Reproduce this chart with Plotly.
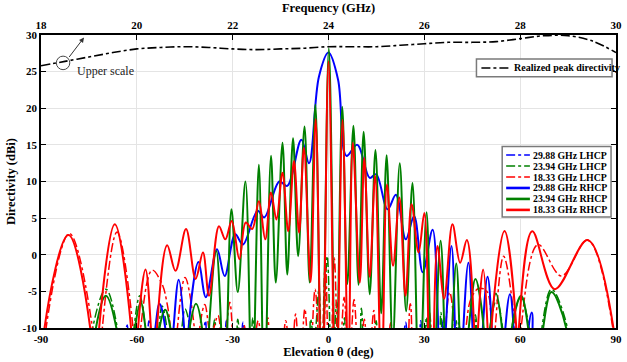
import plotly.graph_objects as go

# ---------------- data ----------------
# elevation angle (deg), directivity (dBi) key points of each pattern cut
blue_lhcp = [(-90,-30),(-66,-25),(-64.5,-16),(-63.0,-9.6),(-61.5,-16),(-58.0,-16),(-56.2,-9.0),(-54.5,-16),
             (-52,-25),(-45,-25),(-40,-16),(-38.5,-9.0),(-37,-16),(-33.5,-16),(-32,-9.0),(-30.5,-16),
             (-28.3,-16),(-26.8,-9.2),(-25.3,-16),(-20,-25),(20,-25),(22.7,-16),(24.2,-9.2),(25.7,-16),
             (27.4,-16),(28.9,-9.0),(30.4,-16),(34.3,-16),(35.8,-8.8),(37.3,-16),(39.5,-16),(40.8,-9.3),
             (42.1,-16),(46,-25),(90,-30)]

green_lhcp = [(-90,-30),(-76,-25),(-73.8,-10),(-69.7,-4.7),(-66.1,-10),(-63.5,-25),(-60.9,-10),(-59.1,-5.6),
              (-57.3,-10),(-55.2,-25),(-53.1,-10),(-52.1,-7.0),(-50.6,-10),(-48.2,-25),(-45.9,-10),(-44.9,-7.4),
              (-43.3,-10),(-40.0,-22),(-37.2,-16),(-35.6,-8.8),(-34.0,-16),(-30.0,-16),(-28.4,-8.8),(-26.8,-16),
              (-25.2,-16),(-23.7,-8.6),(-22.2,-16),(-15,-25),(-7.0,-20),(-5.6,-8.8),(-4.5,-12),(-3.0,-4.8),
              (-2.0,-16),(-0.4,-0.2),(1.1,-16),(2.6,-6.5),(3.8,-16),(5.0,-8.6),(6.4,-20),(9.0,-18),(10.3,-7.3),
              (11.8,-18),(13.6,-16),(14.9,-9.0),(16.2,-16),(22,-25),(29.3,-16),(30.7,-8.5),(32.1,-16),
              (33.8,-16),(35.2,-7.9),(36.6,-16),(38.8,-16),(40.0,-9.0),(41.2,-16),(44.8,-16),(46.0,-8.2),
              (47.2,-16),(49.0,-25),(50.5,-10),(52.6,-6.2),(54.5,-10),(56.0,-25),(57.4,-10),(60.2,-5.8),
              (62.8,-10),(65.0,-25),(66.8,-10),(69.8,-4.7),(74.8,-10),(76.5,-25),(90,-30)]

red_lhcp = [(-90,-30),(-88.4,-10),(-81.1,2.9),(-73.9,-10),(-72.4,-28),(-70.8,-10),(-66.2,3.1),(-61.2,-10),
            (-60.2,-26),(-58.8,-10),(-55.2,-2.1),(-52.1,-4.0),(-50.6,-6.5),(-49.5,-10),(-48.5,-22),(-47.3,-10),
            (-44.9,-3.1),(-42.0,-10),(-41.2,-22),(-40.3,-10),(-38.7,-6.8),(-36.8,-11),(-34.6,-8.3),(-33.0,-14),
            (-30.9,-6.5),(-29.0,-16),(-26.5,-9.6),(-24.5,-16),(-22.0,-9.0),(-20.3,-16),(-19.0,-8.6),(-17.3,-16),
            (-15.5,-16),(-13.4,-9.0),(-11.8,-16),(-10.3,-8.1),(-8.9,-16),(-7.4,-7.4),(-5.9,-16),(-4.2,-4.7),
            (-2.4,-16),(-1.0,-1.1),(0.4,-22),(1.8,-0.4),(3.3,-16),(4.9,-5.8),(6.4,-16),(8.0,-6.1),(9.6,-16),
            (11.2,-8.8),(12.6,-16),(14.2,-7.6),(15.8,-16),(17.5,-16),(19.5,-9.3),(21.2,-16),(23.6,-16),
            (25.6,-6.7),(27.5,-16),(29.5,-16),(31.5,-7.8),(33.5,-16),(35.5,-14),(37.9,-5.1),(40.0,-12),
            (41.3,-16),(43.0,-10),(44.6,-6.0),(47.0,-4.6),(49.6,-5.0),(51.0,-12),(51.6,-16),(52.2,-10),
            (54.8,-0.2),(58.4,-10),(59.3,-26),(60.3,-10),(65.6,1.4),(72.9,-2.9),(81.1,2.0),(89.0,-10),(90,-25)]

blue_rhcp = [(-90,-30),(-57,-25),(-54.2,-10),(-52.9,-6.7),(-51.1,-10),(-50,-22),(-48.5,-10),(-46.9,-3.4),
             (-45.2,-10),(-44.5,-22),(-43.8,-10),(-40.7,-1.0),(-38.4,-5.8),(-34.9,0.75),(-32.5,-2.9),(-29.2,2.8),
             (-26.8,1.4),(-22.2,6.0),(-20.1,5.1),(-15.4,10.0),(-12.9,9.4),(-8.5,15.7),(-6.1,12.5),(-3.0,24.3),
             (0.0,27.6),(3.0,23.9),(5.6,13.5),(9.0,15.0),(12.9,10.5),(14.9,11.0),(18.5,6.2),(21.1,8.2),
             (24.2,2.1),(26.8,5.3),(29.5,-2.4),(32.6,3.4),(35.3,-18),(38.5,1.2),(40.6,-20),(43.8,-1.1),
             (46.5,-20),(49.8,-3.0),(52.9,-20),(56.8,-5.4),(59.8,-20),(63.6,-7.9),(66.5,-22),(90,-30)]

green_rhcp = [(-90,-30),(-75,-25),(-72.8,-10),(-69.7,-5.6),(-66.4,-10),(-63.5,-25),(-60.6,-10),(-58.8,-6.5),
              (-57.3,-10),(-55.0,-25),(-52.9,-10),(-51.1,-7.5),(-49.5,-10),(-46.5,-25),(-43.5,-10),(-41.5,-6.7),
              (-39.6,-10),(-38.5,-25),(-37.4,-10),(-35.1,0.5),(-32.5,-18),(-30.4,6.2),(-28.4,-5.1),(-26.0,10.0),
              (-23.9,-20),(-21.8,12.3),(-20.1,-20),(-18.0,13.5),(-16.5,-3.8),(-14.4,15.3),(-12.9,-2.7),
              (-11.1,15.9),(-9.5,-0.2),(-7.5,17.5),(-5.9,-3.8),(-4.1,20.5),(-2.1,-20),(0.1,28.2),(2.3,-20),
              (4.3,20.2),(5.9,-4.0),(7.8,17.6),(9.4,-4.1),(11.0,16.8),(12.9,-5.4),(14.7,14.3),(16.5,-8.0),
              (18.2,13.6),(20.1,-12),(22.3,12.5),(24.3,-7.7),(26.3,9.8),(28.4,-20),(30.7,5.8),(32.6,-20),
              (35.1,1.9),(37.3,-20),(40.0,-1.2),(42.0,-20),(43.9,-10),(46.0,-3.3),(48.6,-10),(49.6,-25),
              (50.7,-10),(52.4,-5.3),(54.3,-10),(55.8,-25),(57.4,-10),(60.3,-5.6),(62.5,-10),(64.8,-25),
              (67.2,-10),(69.8,-5.1),(74.4,-10),(76.0,-25),(90,-30)]

red_rhcp = [(-90,-30),(-88.9,-10),(-81.4,2.7),(-74.6,-10),(-73.2,-28),(-71.8,-10),(-66.9,4.15),(-61.8,-10),
            (-60.7,-28),(-59.6,-10),(-57.3,-2.0),(-55.6,-10),(-54.6,-26),(-53.7,-10),(-50.5,1.3),(-47.9,-2.2),
            (-44.6,3.5),(-41.6,-3.3),(-39.3,0.3),(-37.4,-5.6),(-34.3,3.9),(-32.3,2.1),(-30.3,4.6),(-27.9,-0.6),
            (-25.9,4.4),(-23.9,3.5),(-21.8,7.3),(-19.8,2.1),(-18.0,8.5),(-16.3,4.8),(-14.4,11.2),(-12.6,3.2),
            (-10.8,12.8),(-9.2,3.0),(-7.7,14.6),(-5.6,-3.7),(-4.0,18.5),(-2.0,-22),(0.0,26.4),(2.3,-22),
            (4.4,18.4),(6.2,-16),(7.6,15.3),(9.8,-3.8),(11.2,13.2),(12.9,-3.0),(14.6,10.8),(16.6,-18),
            (18.3,9.6),(20.2,-1.5),(22.2,7.8),(24.1,-5.6),(26.0,6.9),(28.2,0.3),(30.0,5.7),(32.1,-25),
            (34.1,1.2),(36.2,-6.0),(38.8,4.15),(41.2,-1.1),(43.3,2.0),(45.6,-10),(46.2,-28),(46.8,-10),
            (48.4,-2.0),(49.8,-10),(50.4,-28),(51.0,-10),(55.1,3.25),(58.8,-10),(59.2,-28),(59.6,-10),
            (63.8,3.2),(70.8,-4.7),(81.1,2.0),(89.2,-10),(90,-25)]

series_labels = ["29.88 GHz LHCP", "23.94 GHz LHCP", "18.33 GHz LHCP",
                 "29.88 GHz RHCP", "23.94 GHz RHCP", "18.33 GHz RHCP"]
series_data = [blue_lhcp, green_lhcp, red_lhcp, blue_rhcp, green_rhcp, red_rhcp]

# realized peak directivity vs frequency (upper scale)
freq_ghz = [18, 18.5, 19, 19.5, 20, 20.5, 21, 21.5, 22, 22.5, 23, 23.5, 24, 24.5, 25,
            25.5, 26, 26.5, 27, 27.5, 28, 28.5, 29, 29.5, 30]
peak_dir = [25.8, 26.4, 27.0, 27.6, 28.1, 28.3, 28.4, 28.3, 28.1, 28.0, 28.1, 28.2, 28.4, 28.4, 28.4,
            28.6, 28.8, 29.0, 29.0, 29.1, 29.5, 29.9, 29.9, 29.2, 27.6]
peak_label = "Realized peak directivity"

elev_ticks = [-90, -60, -30, 0, 30, 60, 90]
freq_ticks = [18, 20, 22, 24, 26, 28, 30]
dir_ticks = [-10, -5, 0, 5, 10, 15, 20, 25, 30]

# ---------------- styles ----------------
colors = ["#0000ff", "#008000", "#ff0000", "#0000ff", "#008000", "#ff0000"]
dashes = ["dashdot", "dashdot", "dashdot", "solid", "solid", "solid"]
widths = [1.5, 1.5, 1.5, 2.0, 2.0, 2.0]
FONT = "Liberation Serif"

W, H = 627, 362
ML, MR, MT, MB = 41, 5, 35, 33
PW, PH = W - ML - MR, H - MT - MB


def px2x(px):
    return (px - ML) / PW


def py2y(py):
    return (H - MB - py) / PH


fig = go.Figure()
for pts, lab, col, dsh, wd in zip(series_data, series_labels, colors, dashes, widths):
    fig.add_trace(go.Scatter(
        x=[p[0] for p in pts], y=[p[1] for p in pts], mode="lines", name=lab,
        line=dict(color=col, width=wd, dash=dsh, shape="spline", smoothing=1.0),
        showlegend=False, hoverinfo="skip"))

fig.add_trace(go.Scatter(
    x=freq_ghz, y=peak_dir, xaxis="x2", yaxis="y", mode="lines", name=peak_label,
    line=dict(color="black", width=1.6, dash="dashdot", shape="spline", smoothing=1.0),
    showlegend=False, hoverinfo="skip"))

tickfont = dict(family=FONT, size=11, color="black", weight="bold")
titlefont = dict(family=FONT, size=12.5, color="black", weight="bold")

fig.update_layout(
    width=W, height=H,
    margin=dict(l=ML, r=MR, t=MT, b=MB, pad=0),
    paper_bgcolor="white", plot_bgcolor="white",
    xaxis=dict(range=[-90, 90], tickvals=elev_ticks, ticktext=[str(v) for v in elev_ticks],
               ticks="inside", ticklen=5, tickwidth=1.3, tickcolor="black",
               showline=True, linecolor="black", linewidth=1.5, mirror=False,
               showgrid=True, gridcolor="#e4e4e4", gridwidth=1, zeroline=False,
               tickfont=tickfont,
               title=dict(text="Elevation θ (deg)", font=titlefont, standoff=3)),
    xaxis2=dict(range=[18, 30], tickvals=freq_ticks, ticktext=[str(v) for v in freq_ticks],
                overlaying="x", side="top", anchor="y",
                ticks="inside", ticklen=5, tickwidth=1.3, tickcolor="black",
                showline=True, linecolor="black", linewidth=1.5,
                showgrid=False, zeroline=False, tickfont=tickfont,
                title=dict(text="Frequency (GHz)", font=titlefont, standoff=3)),
    yaxis=dict(range=[-10, 30], tickvals=dir_ticks, ticktext=[str(v) for v in dir_ticks],
               ticks="inside", ticklen=5, tickwidth=1.3, tickcolor="black",
               showline=True, linecolor="black", linewidth=1.5, mirror="ticks",
               showgrid=True, gridcolor="#e4e4e4", gridwidth=1, zeroline=False,
               tickfont=tickfont,
               title=dict(text="Directivity (dBi)", font=titlefont, standoff=4)),
    showlegend=False,
)

shapes = []
annotations = []

# ---- legend for the pattern cuts (drawn box) ----
lg_left, lg_right, lg_top, lg_bot = 507, 617, 147, 217.5
shapes.append(dict(type="rect", xref="paper", yref="paper",
                   x0=px2x(lg_left), x1=px2x(lg_right), y0=py2y(lg_bot), y1=py2y(lg_top),
                   line=dict(color="#7a7a7a", width=1.5), fillcolor="white", layer="above"))
n = len(series_labels)
row_first, row_last = 155.5, 210.5
for i, (lab, col, dsh, wd) in enumerate(zip(series_labels, colors, dashes, widths)):
    ry = row_first + (row_last - row_first) * i / (n - 1)
    shapes.append(dict(type="line", xref="paper", yref="paper",
                       x0=px2x(511), x1=px2x(535), y0=py2y(ry), y1=py2y(ry),
                       line=dict(color=col, width=(2.6 if dsh == "solid" else 1.5), dash=dsh),
                       layer="above"))
    annotations.append(dict(xref="paper", yref="paper", x=px2x(536.5), y=py2y(ry),
                            xanchor="left", yanchor="middle", showarrow=False, text=lab,
                            font=dict(family=FONT, size=9.8, color="black", weight="bold")))

# ---- legend for the peak directivity curve ----
shapes.append(dict(type="rect", xref="paper", yref="paper",
                   x0=px2x(481), x1=px2x(618), y0=py2y(77), y1=py2y(59),
                   line=dict(color="#7a7a7a", width=1.5), fillcolor="white", layer="above"))
shapes.append(dict(type="line", xref="paper", yref="paper",
                   x0=px2x(486), x1=px2x(514), y0=py2y(68), y1=py2y(68),
                   line=dict(color="black", width=1.5, dash="dashdot"), layer="above"))
annotations.append(dict(xref="paper", yref="paper", x=px2x(516.5), y=py2y(68),
                        xanchor="left", yanchor="middle", showarrow=False, text=peak_label,
                        font=dict(family=FONT, size=10, color="black", weight="bold")))

# ---- "Upper scale" marker ----
cx, cy, rr = 63.3, 63.0, 6.8
shapes.append(dict(type="circle", xref="paper", yref="paper",
                   x0=px2x(cx - rr), x1=px2x(cx + rr), y0=py2y(cy + rr), y1=py2y(cy - rr),
                   line=dict(color="#444444", width=1)))
annotations.append(dict(xref="paper", yref="paper", x=px2x(84.5), y=py2y(37.5),
                        ax=-16, ay=21, axref="pixel", ayref="pixel", text="",
                        showarrow=True, arrowhead=2, arrowsize=1, arrowwidth=1, arrowcolor="#333333"))
annotations.append(dict(xref="paper", yref="paper", x=px2x(75), y=py2y(71),
                        xanchor="left", yanchor="middle", showarrow=False, text="Upper scale",
                        font=dict(family=FONT, size=12, color="#222222")))

fig.update_layout(shapes=shapes, annotations=annotations)

fig.write_html("out.html",
               config={"displayModeBar": False},
               post_script="document.body.style.margin='0px';document.body.style.padding='0px';"
                           "document.body.style.overflow='hidden';")
